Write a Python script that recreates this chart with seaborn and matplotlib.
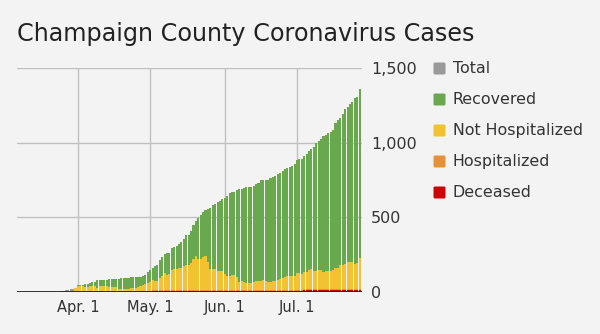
import numpy as np
import pandas as pd
import matplotlib
matplotlib.use("Agg")
import matplotlib.pyplot as plt
import seaborn as sns
from matplotlib.patches import FancyBboxPatch
from matplotlib.transforms import IdentityTransform

# Daily case counts, Mar. 25 through Jul. 27
start_date = "2020-03-25"
end_date = "2020-07-27"

total = [
    5, 7, 12, 13, 20, 22, 29,
    47, 47, 47, 53, 53, 60, 66, 69, 78, 78,
    80, 80, 80, 87, 87, 87, 87, 87, 93, 93,
    91, 91, 100, 100, 100, 100, 101, 109, 116, 133,
    147, 164, 176, 180, 213, 233, 256, 262, 258, 293,
    300, 310, 320, 335, 353, 380, 382, 407, 447, 473,
    496, 513, 536, 547, 553, 562, 580, 591, 602, 612,
    622, 632, 645, 662, 667, 667, 680, 687, 691, 698,
    700, 700, 704, 713, 724, 733, 747, 747, 747, 753,
    762, 769, 776, 791, 798, 807, 822, 829, 836, 845,
    858, 887, 893, 893, 913, 924, 947, 958, 973, 996,
    1013, 1025, 1044, 1053, 1062, 1069, 1087, 1129, 1153, 1164,
    1191, 1227, 1236, 1262, 1273, 1298, 1309, 1360,
]

# Active cases (not hospitalized + hospitalized + deceased); 0 = no breakdown reported
active = [
    0, 0, 0, 0, 0, 0, 29,
    38, 38, 38, 36, 36, 38, 38, 38, 26, 38,
    38, 38, 38, 33, 33, 33, 33, 18, 22, 22,
    22, 22, 29, 29, 29, 36, 40, 45, 55, 62,
    70, 78, 73, 75, 91, 104, 127, 113, 120, 147,
    151, 151, 158, 158, 173, 180, 180, 191, 218, 240,
    224, 220, 236, 240, 202, 156, 156, 151, 142, 142,
    142, 120, 107, 107, 113, 113, 102, 69, 76, 69,
    62, 62, 62, 64, 71, 71, 71, 80, 71, 64,
    64, 71, 76, 80, 85, 91, 102, 109, 109, 109,
    109, 127, 127, 120, 133, 133, 147, 151, 142, 142,
    147, 147, 136, 140, 140, 140, 150, 158, 158, 184,
    184, 190, 200, 200, 200, 187, 191, 229,
]

hospitalized = (
    [0, 0, 0, 0, 0, 0, 6]
    + [6, 6, 6, 5, 5, 5, 5, 5, 5, 5]
    + [4, 4, 4, 4, 4, 4, 4, 5, 5, 5]
    + [5, 5, 4, 4, 4, 4, 4, 4, 4, 4]
    + [4, 5, 5, 5, 5, 5, 5, 5, 5, 5]
    + [5] * 21
    + [6] * 45
    + [9] * 12
)

deceased = (
    [0] * 29
    + [2, 2, 2, 3, 5, 6, 6, 6]
    + [6] * 10
    + [7] * 54
    + [12] * 24
)

series_names = ["Total", "Recovered", "Not Hospitalized", "Hospitalized", "Deceased"]
series_colors = ["#999999", "#6aa84f", "#f1c232", "#e69138", "#cc0000"]

dates = pd.date_range(start_date, end_date, freq="D")
day = np.asarray((dates - pd.Timestamp("2020-04-01")).days)

tot = np.asarray(total, float)
act = np.asarray(active, float)
hos = np.asarray(hospitalized, float)
dec = np.asarray(deceased, float)
not_hosp = act - hos - dec
recovered = np.where(act > 0, tot - act, 0.0)

# Stack heights, drawn back to front
layers = [
    tot,
    dec + hos + not_hosp + recovered,
    dec + hos + not_hosp,
    dec + hos,
    dec,
]

bg = "#f3f3f3"
text_color = "#333333"

sns.set_theme(style="white")
plt.rcParams["font.family"] = ["DejaVu Sans"]

fig = plt.figure(figsize=(6.0, 3.34), dpi=100, facecolor=bg)
ax = fig.add_axes([17 / 600, 42 / 334, 345 / 600, 224 / 334])
ax.set_facecolor(bg)

for height, color in zip(layers, series_colors):
    sns.barplot(x=day, y=height, native_scale=True, color=color, saturation=1,
                width=0.86, linewidth=0, errorbar=None, ax=ax, zorder=3)

ax.set_xlim(-25.3, 118.0)
ax.set_ylim(0, 1500)

for s in ax.spines.values():
    s.set_visible(False)

grid_color = "#c0c0c0"
for v in [500, 1000, 1500]:
    ax.axhline(v, color=grid_color, lw=1.0, zorder=1)
month_ticks = [0, 30, 61, 91]
month_labels = ["Apr. 1", "May. 1", "Jun. 1", "Jul. 1"]
for t in month_ticks:
    ax.axvline(t, color=grid_color, lw=1.0, zorder=1)
ax.axhline(0, color="#222222", lw=1.3, zorder=5)

ax.set_xticks(month_ticks)
ax.set_xticklabels(month_labels)
ax.yaxis.tick_right()
ax.set_yticks([0, 500, 1000, 1500])
ax.set_yticklabels(["0", "500", "1,000", "1,500"])
ax.tick_params(axis="x", length=0, pad=6, labelsize=10.5, labelcolor=text_color)
ax.tick_params(axis="y", length=0, pad=6.5, labelsize=11.5, labelcolor=text_color)
ax.set_xlabel("")
ax.set_ylabel("")

fig.text(17 / 600, 1 - 33.5 / 334, "Champaign County Coronavirus Cases",
         fontsize=17.2, color="#222222", va="center", ha="left")

# Legend: swatches and labels placed in pixel space
H = 334
for i, (name, color) in enumerate(zip(series_names, series_colors)):
    cy = 68.5 + 31 * i
    sw = FancyBboxPatch((433.5, H - cy - 6), 12, 12,
                        boxstyle="round,pad=0,rounding_size=1.5",
                        facecolor=color, edgecolor="none",
                        transform=IdentityTransform())
    fig.patches.append(sw)
    fig.text(453 / 600, 1 - cy / H, name, fontsize=11.4, color=text_color,
             va="center", ha="left")

fig.savefig("out.png", dpi=100, facecolor=bg)
